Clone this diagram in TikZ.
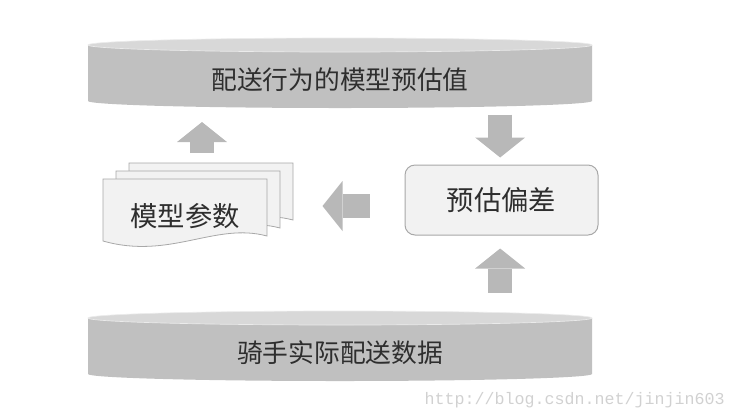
\documentclass[tikz,border=0pt]{standalone}
\usepackage{fontspec}
\setmonofont{Liberation Mono}
\newfontfamily\cjk{Noto Sans CJK SC}
\usetikzlibrary{arrows.meta,calc}
\definecolor{cylside}{HTML}{C0C0C0}
\definecolor{cylcapc}{HTML}{D8D8D8}
\definecolor{arrowgray}{HTML}{B8B8B8}
\definecolor{boxfill}{HTML}{F2F2F2}
\definecolor{boxline}{HTML}{A8A8A8}
\definecolor{inkgray}{HTML}{2E2E2E}

\begin{document}
\begin{tikzpicture}[
  x=0.75pt, y=-0.75pt,
  font=\cjk\fontsize{20}{24}\selectfont, text=inkgray,
  cylbody/.style={fill=cylside},
  cylcap/.style={fill=cylcapc, draw=black!8, line width=0.5pt},
  cyllabel/.style={inner sep=0pt, font=\cjk\fontsize{19.3}{23}\selectfont},
  sheetlabel/.style={inner sep=0pt, font=\cjk\fontsize{20.5}{24}\selectfont},
  sheet/.style={fill=boxfill, draw=boxline, line width=0.6pt},
  biasbox/.style={draw=boxline, fill=boxfill, line width=0.75pt,
                  rounded corners=7.5pt, minimum width=144.75pt,
                  minimum height=52.5pt, font=\cjk\fontsize{20.5}{24}\selectfont},
  blockarr/.style={draw=arrowgray, line width=18pt,
                   -{Triangle[length=15pt, width=37.5pt, line width=0pt]}},
  watermark/.style={font=\ttfamily\fontsize{12.5}{14}\selectfont, text=black!18}
]
  \useasboundingbox (0,0) rectangle (731,419);

  % --- Top cylinder: model estimate ---
  \fill[cylbody] (88,45) -- (88,101)
       arc[start angle=180, end angle=360, x radius=189pt, y radius=5.25pt]
       -- (592,45) -- cycle;
  \filldraw[cylcap] (340,45) ellipse [x radius=189pt, y radius=5.25pt];
  \node[cyllabel] (estimate) at (340,80) {配送行为的模型预估值};

  % --- Bottom cylinder: rider data ---
  \fill[cylbody] (88,318) -- (88,374)
       arc[start angle=180, end angle=360, x radius=189pt, y radius=5.25pt]
       -- (592,318) -- cycle;
  \filldraw[cylcap] (340,318) ellipse [x radius=189pt, y radius=5.25pt];
  \node[cyllabel] (riderdata) at (340,353) {骑手实际配送数据};

  % --- Stacked sheets: model parameters ---
  \foreach \d in {2,1,0} {
    \begin{scope}[shift={(13*\d,-8*\d)}]
      \filldraw[sheet] (103,179) -- (267,179) -- (267,236)
           .. controls (215,222) and (170,260) .. (103,241) -- cycle;
    \end{scope}
  }
  \node[sheetlabel] (params) at (185,216) {模型参数};
  \coordinate (paramstop) at (202,153);

  % --- Bias box ---
  \node[biasbox] (bias) at (501.5,200) {预估偏差};

  % --- Block arrows ---
  \draw[blockarr] (paramstop) -- ($(paramstop)+(0,-31)$);
  \draw[blockarr] ([xshift=-1pt, yshift=37.5pt]bias.north)
                  -- ([xshift=-1pt, yshift=5.25pt]bias.north);
  \draw[blockarr] ([xshift=-26.25pt, yshift=-4.5pt]bias.west)
                  -- ([xshift=-61.5pt, yshift=-4.5pt]bias.west);
  \draw[blockarr] ([xshift=-1pt, yshift=-42.75pt]bias.south)
                  -- ([xshift=-1pt, yshift=-9.75pt]bias.south);

  % --- Watermark ---
  \node[watermark, anchor=west] (mark) at (420,400) {http://blog.csdn.net/jinjin603};
\end{tikzpicture}
\end{document}
